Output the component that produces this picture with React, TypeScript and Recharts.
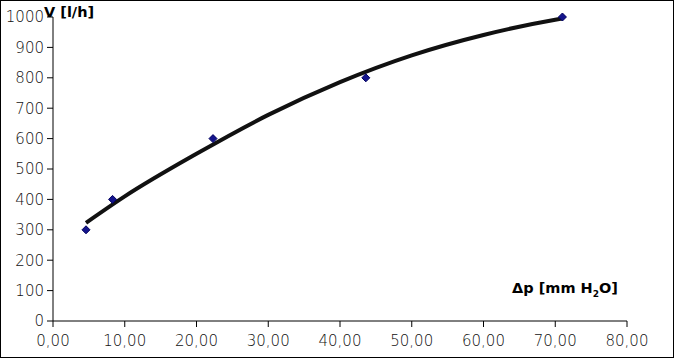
import { ComposedChart, Line, Scatter, XAxis, YAxis, Label } from "recharts";

const measuredDp = [4.6, 8.3, 22.3, 43.6, 71.0];
const measuredV = [300, 400, 600, 800, 1000];

const trendDp = [4.6, 10, 20, 30, 40, 50, 60, 70, 71];
const trendV = [323, 410, 550, 678, 786, 874, 941, 991, 995];

const xTicks = [0, 10, 20, 30, 40, 50, 60, 70, 80];
const yTicks = [0, 100, 200, 300, 400, 500, 600, 700, 800, 900, 1000];

const points = measuredDp.map((x, i) => ({ x, y: measuredV[i] }));
const trend = trendDp.map((x, i) => ({ x, y: trendV[i] }));

const FONT = "'DejaVu Sans', Verdana, sans-serif";
const tickStyle = { fill: "#111", fontSize: 15, fontFamily: FONT, fontWeight: 200 };

const fmtX = (v: number) => v.toFixed(2).replace(".", ",");

function Diamond(props: any) {
  const { cx, cy } = props;
  if (cx == null || cy == null) return null;
  const r = 4;
  return (
    <polygon
      points={`${cx},${cy - r} ${cx + r},${cy} ${cx},${cy + r} ${cx - r},${cy}`}
      fill="#14148c"
      stroke="#00005e"
      strokeWidth={1}
    />
  );
}

export default function App() {
  return (
    <div style={{ position: "absolute", left: 0, top: 0, width: 674, height: 358, background: "#fff" }}>
      <ComposedChart
        width={674}
        height={358}
        margin={{ top: 17, right: 47, bottom: 7, left: 0 }}
        style={{ fontFamily: FONT }}
      >
        <XAxis
          dataKey="x"
          type="number"
          domain={[0, 80]}
          ticks={xTicks}
          interval={0}
          tickFormatter={fmtX}
          stroke="#000"
          tickSize={6}
          tickMargin={8}
          height={30}
          tick={tickStyle}
        >
          <Label
            content={(p: any) => {
              const vb = p.viewBox || { x: 53, y: 321, width: 574 };
              return (
                <text
                  x={vb.x + vb.width - 9}
                  y={vb.y - 28}
                  textAnchor="end"
                  fill="#000"
                  fontSize={14.5}
                  fontWeight="bold"
                  fontFamily={FONT}
                >
                  Δp [mm H
                  <tspan fontSize={9} dy={4}>2</tspan>
                  <tspan dy={-4}>O]</tspan>
                </text>
              );
            }}
          />
        </XAxis>
        <YAxis
          type="number"
          domain={[0, 1000]}
          ticks={yTicks}
          interval={0}
          width={53}
          stroke="#000"
          tickSize={6}
          tickMargin={3}
          tick={tickStyle}
        >
          <Label
            content={() => (
              <text x={44} y={17} fill="#000" fontSize={14.5} fontWeight="bold" fontFamily={FONT}>
                V [l/h]
              </text>
            )}
          />
        </YAxis>
        <Line
          data={trend}
          dataKey="y"
          type="monotone"
          stroke="#111"
          strokeWidth={4}
          dot={false}
          activeDot={false}
          isAnimationActive={false}
        />
        <Scatter data={points} dataKey="y" shape={<Diamond />} isAnimationActive={false} />
      </ComposedChart>
      <div
        style={{
          position: "absolute",
          left: 0,
          top: 0,
          width: 674,
          height: 358,
          boxSizing: "border-box",
          border: "1px solid #000",
          pointerEvents: "none",
        }}
      />
    </div>
  );
}
